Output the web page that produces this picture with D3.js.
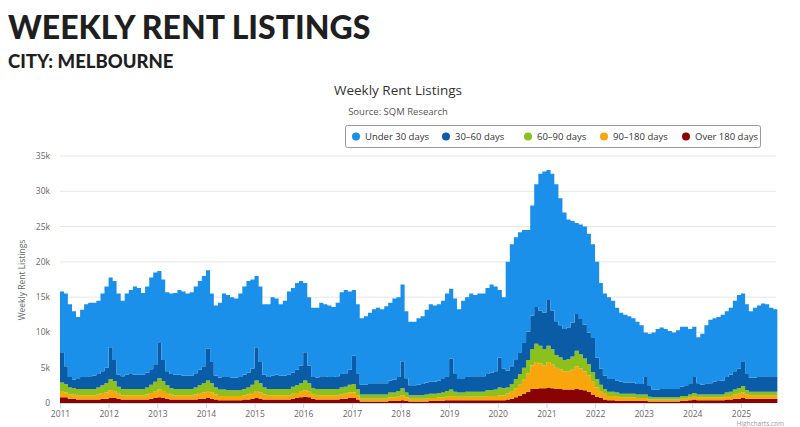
<!DOCTYPE html>
<html><head><meta charset="utf-8">
<script src="https://cdn.jsdelivr.net/npm/d3@7"></script>
<style>body{margin:0;background:#fff;font-family:"Open Sans",Arial,sans-serif}</style>
</head><body><svg id="c" width="800" height="427"></svg>
<script>
const seriesNames = ["Under 30 days","30\u201360 days","60\u201390 days","90\u2013180 days","Over 180 days"];
const colors = ["#1a90ea","#0b5ca6","#8bc11a","#f8a60b","#8a0303"];
const startYear = 2011, startMonth = 0;
// monthly values, thousands of listings
const under30 = [
8.6,10.3,10.3,9.7,8.7,9.5,10.3,10.4,10.3,10.4,11.0,11.5,
9.9,11.2,11.5,10.7,11.5,11.8,12.5,12.3,11.6,12.2,13.0,13.1,
10.2,11.4,11.2,11.4,11.6,12.0,11.9,11.6,11.8,12.3,12.6,12.8,
11.1,9.7,9.9,10.6,11.7,11.6,11.4,11.2,11.8,12.5,13.0,12.6,
10.1,10.7,10.0,10.3,11.1,10.8,10.1,10.6,11.8,12.0,12.3,12.0,
9.8,9.7,9.8,9.9,10.4,10.2,10.1,9.9,10.4,11.6,11.8,11.1,
9.3,9.8,9.4,9.7,10.1,10.5,10.7,10.5,10.9,11.0,11.5,11.3,
10.9,9.5,9.0,9.0,9.4,9.6,10.3,11.0,10.8,10.8,11.1,11.7,
9.9,10.6,9.9,11.0,11.3,11.7,11.5,11.7,11.7,12.2,12.5,12.0,
9.6,10.1,15.4,17.3,17.3,17.1,16.0,14.4,15.6,17.4,19.4,20.0,
18.4,19.4,19.4,18.0,16.5,15.3,14.4,12.9,13.4,13.9,14.0,13.3,
13.6,12.1,11.6,11.6,11.1,10.3,9.8,9.6,9.4,9.1,8.8,8.3,
6.3,7.4,8.1,8.6,8.7,8.5,8.2,8.0,8.3,8.5,8.4,7.8,
7.1,6.5,7.2,8.3,9.0,9.0,9.1,9.3,9.3,9.5,10.0,10.4,
9.6,9.9,9.4,9.9,10.1,10.3,10.2,9.7,9.5,9.5];
const d30to60 = [
4.3,2.5,1.5,1.2,1.5,1.7,1.7,1.8,1.9,1.9,2.0,2.2,
4.5,3.0,1.7,1.8,2.0,2.2,2.0,2.0,2.0,2.1,2.2,2.4,
5.0,3.0,2.0,2.0,2.0,2.0,1.9,1.9,1.9,2.0,2.2,2.4,
4.5,3.0,1.7,1.7,1.9,1.9,1.8,1.8,1.9,2.0,2.1,2.3,
4.7,3.0,1.8,1.7,1.9,2.0,1.9,1.9,2.0,2.0,2.2,2.5,
4.0,2.5,1.6,1.6,1.8,1.8,1.7,1.7,1.8,1.9,1.9,2.1,
4.0,2.2,1.4,1.4,1.5,1.6,1.6,1.6,1.6,1.7,1.8,2.0,
3.8,2.0,1.4,1.4,1.5,1.6,1.7,1.7,1.7,1.8,1.9,2.1,
4.4,2.6,1.9,2.0,2.1,2.2,2.2,2.2,2.2,2.3,2.5,2.6,
4.2,2.8,2.4,2.5,2.8,3.0,3.5,4.0,4.8,5.2,5.0,5.2,
6.5,5.5,4.8,4.5,4.4,4.5,4.8,5.2,5.0,4.8,4.5,4.8,
3.0,2.3,1.9,1.8,1.8,1.7,1.7,1.6,1.6,1.6,1.5,1.5,
2.5,1.5,1.1,1.1,1.2,1.2,1.2,1.2,1.2,1.3,1.4,1.5,
2.3,1.6,1.4,1.5,1.6,1.8,1.9,2.0,2.2,2.4,2.6,2.8,
3.5,2.3,2.0,2.0,2.1,2.2,2.2,2.2,2.2,2.2];
const d60to90 = [
1.3,1.2,1.0,.9,.9,.9,.9,.9,.9,1.0,1.1,1.3,
1.6,1.4,1.0,.9,.9,.9,.9,.9,.9,1.0,1.2,1.4,
1.6,1.4,1.1,.9,.9,.9,.9,.9,.9,1.0,1.1,1.3,
1.5,1.3,1.0,.9,.9,.8,.8,.8,.8,.9,1.0,1.2,
1.5,1.3,1.0,.9,.9,.9,.9,.9,.9,1.0,1.1,1.2,
1.4,1.2,.9,.9,.9,.9,.9,.9,.9,1.0,1.0,1.1,
1.2,.9,.6,.6,.6,.6,.6,.6,.6,.7,.7,.8,
1.0,.7,.5,.5,.5,.5,.6,.6,.6,.6,.7,.8,
.9,.7,.6,.6,.7,.7,.7,.7,.7,.8,.8,.9,
1.1,1.0,.9,1.1,1.3,1.5,1.7,1.9,2.3,2.6,2.5,2.3,
2.3,2.1,1.8,1.7,1.6,1.7,1.9,2.2,2.0,1.8,1.6,1.4,
1.2,.9,.7,.6,.6,.6,.5,.5,.5,.5,.5,.5,
.5,.4,.3,.3,.3,.3,.3,.3,.3,.4,.4,.4,
.5,.4,.4,.4,.4,.4,.4,.4,.5,.6,.7,.8,
.9,.6,.5,.5,.5,.5,.5,.5,.5,.5];
const d90to180 = [
.8,.7,.6,.6,.6,.6,.6,.6,.6,.7,.8,.9,
1.1,1.0,.7,.6,.6,.6,.6,.6,.6,.7,.8,.9,
1.1,1.0,.8,.7,.6,.6,.6,.6,.6,.7,.8,.9,
1.0,.9,.7,.6,.6,.6,.6,.6,.6,.6,.7,.8,
1.0,.9,.7,.6,.6,.6,.6,.6,.6,.7,.7,.8,
.9,.8,.6,.6,.6,.6,.6,.6,.6,.6,.7,.8,
.8,.6,.4,.4,.4,.4,.4,.4,.4,.5,.5,.6,
.7,.5,.4,.4,.4,.4,.4,.4,.4,.5,.5,.5,
.6,.5,.5,.5,.5,.5,.5,.5,.5,.6,.6,.6,
.7,.7,.8,1.0,1.3,1.6,2.0,2.6,3.3,3.8,3.5,3.2,
3.6,3.4,3.0,2.8,2.6,2.6,2.8,3.2,3.0,2.7,2.3,1.8,
1.3,1.0,.8,.6,.6,.6,.5,.5,.5,.5,.4,.4,
.4,.3,.3,.3,.3,.3,.3,.3,.3,.3,.3,.4,
.4,.4,.4,.4,.4,.4,.4,.4,.5,.5,.6,.7,
.8,.6,.5,.5,.5,.5,.5,.5,.5,.5];
const over180 = [
.8,.8,.6,.6,.5,.5,.5,.5,.5,.5,.6,.6,
.7,.7,.6,.5,.5,.5,.5,.5,.5,.5,.6,.7,
.8,.7,.6,.5,.5,.5,.5,.5,.5,.5,.6,.6,
.7,.6,.5,.4,.4,.4,.4,.4,.4,.5,.5,.6,
.7,.6,.5,.5,.5,.5,.5,.5,.5,.6,.7,.8,
.9,.8,.6,.5,.5,.5,.5,.5,.5,.6,.6,.7,
.7,.5,.2,.2,.2,.2,.2,.2,.2,.3,.3,.3,
.4,.3,.2,.2,.2,.2,.2,.3,.3,.3,.3,.4,
.4,.4,.4,.4,.4,.4,.4,.4,.4,.4,.4,.4,
.4,.4,.5,.6,.8,1.0,1.3,1.6,2.0,2.0,2.1,2.1,
2.2,2.1,2.0,2.0,1.9,1.9,1.9,2.0,1.9,1.8,1.6,1.2,
.9,.7,.5,.4,.4,.3,.3,.3,.3,.3,.3,.3,
.3,.2,.2,.2,.2,.2,.2,.2,.2,.3,.3,.4,
.5,.4,.4,.4,.4,.4,.4,.4,.5,.5,.6,.6,
.7,.6,.6,.6,.6,.6,.6,.6,.6,.6];
const yTicks = [0,5,10,15,20,25,30,35];
const xYears = d3.range(2011,2026);

const svg = d3.select("#c");
svg.append("text").attr("x",8).attr("y",39).attr("font-family","Lato, 'Open Sans', sans-serif").attr("font-weight",900).attr("font-size",32).attr("fill","#1f1f1f").text("WEEKLY RENT LISTINGS");
svg.append("text").attr("x",8).attr("y",68).attr("font-family","Lato, 'Open Sans', sans-serif").attr("font-weight",900).attr("font-size",18.5).attr("fill","#1f1f1f").text("CITY: MELBOURNE");
svg.append("text").attr("x",398).attr("y",95).attr("text-anchor","middle").attr("font-size",13.5).attr("fill","#333").text("Weekly Rent Listings");
svg.append("text").attr("x",398).attr("y",115).attr("text-anchor","middle").attr("font-size",9.5).attr("fill","#555").text("Source: SQM Research");

const x = d3.scaleTime().domain([new Date(2011,0,1), new Date(2025,0,1)]).range([60,741]);
const y = d3.scaleLinear().domain([0,35]).range([403,156]);

const rows = under30.map((v,i)=>({date:new Date(startYear, startMonth+i, 1), s0:v, s1:d30to60[i], s2:d60to90[i], s3:d90to180[i], s4:over180[i]}));
const stack = d3.stack().keys(["s4","s3","s2","s1","s0"])(rows);

const g = svg.append("g");
yTicks.forEach(t=>{
  g.append("line").attr("x1",60).attr("x2",776).attr("y1",y(t)).attr("y2",y(t)).attr("stroke","#e6e6e6");
  g.append("text").attr("x",50).attr("y",y(t)+3).attr("text-anchor","end").attr("font-size",8.5).attr("fill","#666").text(t===0?"0":t+"k");
});
const area = d3.area().x(d=>x(d.data.date)).y0(d=>y(d[0])).y1(d=>y(d[1])).curve(d3.curveStepAfter);
const colorByKey = {s0:colors[0],s1:colors[1],s2:colors[2],s3:colors[3],s4:colors[4]};
g.selectAll("path.a").data(stack).join("path").attr("d",area).attr("fill",d=>colorByKey[d.key]);

const xa = svg.append("g").attr("transform","translate(0,403)")
  .call(d3.axisBottom(x).tickValues(xYears.map(yy=>new Date(yy,0,1))).tickFormat(d3.timeFormat("%Y")).tickSize(5).tickSizeOuter(0));
xa.select(".domain").attr("stroke","#ccd6eb");
xa.selectAll(".tick line").attr("stroke","#ccd6eb");
xa.selectAll("text").attr("font-size",8.5).attr("fill","#666").attr("font-family","'Open Sans',sans-serif");

svg.append("text").attr("transform","translate(25,280) rotate(-90)").attr("text-anchor","middle").attr("font-size",8.5).attr("fill","#666").text("Weekly Rent Listings");

// legend
svg.append("rect").attr("x",345.5).attr("y",125.5).attr("width",415).attr("height",22).attr("rx",2).attr("fill","#fff").attr("stroke","#999");
const lx = [356,446,528,604,686];
const leg = ["s0","s1","s2","s3","s4"];
leg.forEach((k,i)=>{
  svg.append("circle").attr("cx",lx[i]).attr("cy",136.5).attr("r",4).attr("fill",colorByKey[k]);
  svg.append("text").attr("x",lx[i]+9).attr("y",140).attr("font-size",9.5).attr("fill","#333").text(seriesNames[i]);
});
svg.append("text").attr("x",784).attr("y",425.5).attr("text-anchor","end").attr("font-size",6.5).attr("fill","#999").text("Highcharts.com");
</script></body></html>
